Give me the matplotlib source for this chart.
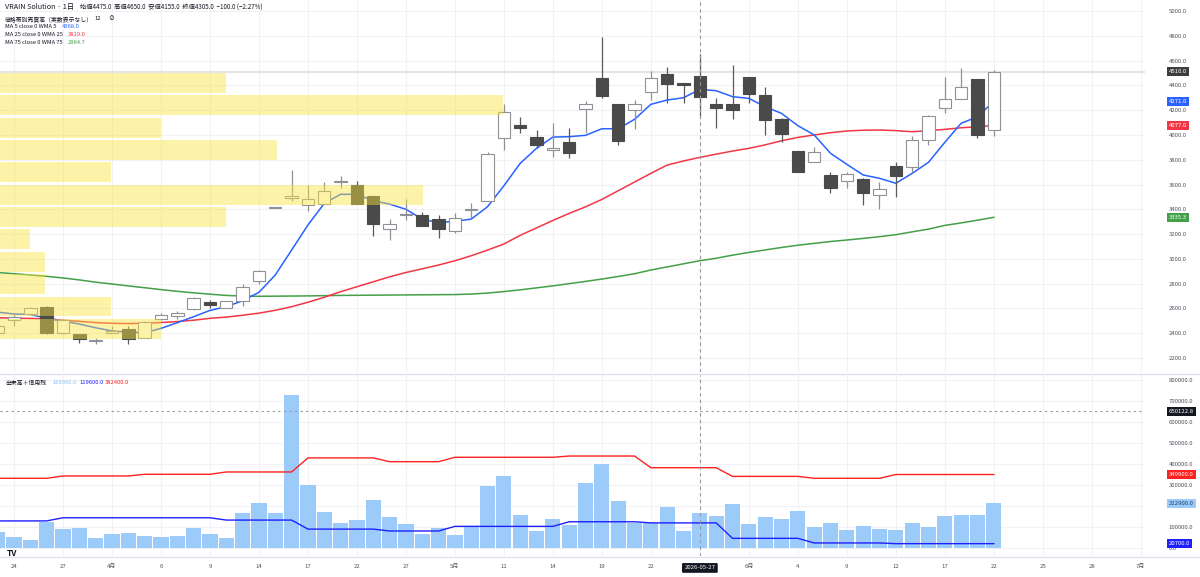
import matplotlib
matplotlib.use("Agg")
import matplotlib.pyplot as plt
from matplotlib.lines import Line2D
import numpy as np

plt.rcParams['font.family'] = ['Noto Sans CJK JP', 'DejaVu Sans']

# ---- data (daily bars, 2026-03-23 .. 2026-06-22) ----
dates = ["2026-03-23", "2026-03-24", "2026-03-25", "2026-03-26", "2026-03-27",
         "2026-03-30", "2026-03-31", "2026-04-01", "2026-04-02", "2026-04-03",
         "2026-04-06", "2026-04-07", "2026-04-08", "2026-04-09", "2026-04-10",
         "2026-04-13", "2026-04-14", "2026-04-15", "2026-04-16", "2026-04-17",
         "2026-04-20", "2026-04-21", "2026-04-22", "2026-04-23", "2026-04-24",
         "2026-04-27", "2026-04-28", "2026-04-30", "2026-05-01", "2026-05-07",
         "2026-05-08", "2026-05-11", "2026-05-12", "2026-05-13", "2026-05-14",
         "2026-05-15", "2026-05-18", "2026-05-19", "2026-05-20", "2026-05-21",
         "2026-05-22", "2026-05-25", "2026-05-26", "2026-05-27", "2026-05-28",
         "2026-05-29", "2026-06-01", "2026-06-02", "2026-06-03", "2026-06-04",
         "2026-06-05", "2026-06-08", "2026-06-09", "2026-06-10", "2026-06-11",
         "2026-06-12", "2026-06-15", "2026-06-16", "2026-06-17", "2026-06-18",
         "2026-06-19", "2026-06-22"]

opens = [2400, 2510, 2555, 2615, 2400, 2395, 2335, 2405, 2430, 2365,
         2518, 2535, 2592, 2652, 2602, 2658, 2825, 3408, 3488, 3432,
         3442, 3622, 3593, 3507, 3245, 3355, 3350, 3318, 3222, 3398,
         3470, 3973, 4078, 3986, 3880, 3943, 4208, 4457, 4247, 4198,
         4346, 4489, 4416, 4475, 4250, 4250, 4465, 4322, 4128, 3870,
         3779, 3677, 3631, 3644, 3515, 3749, 3738, 3956, 4220, 4290,
         4449, 4040]
highs = [2470, 2555, 2615, 2620, 2510, 2395, 2360, 2460, 2460, 2495,
         2560, 2580, 2690, 2672, 2660, 2800, 2908, 3408, 3715, 3595,
         3622, 3670, 3630, 3510, 3318, 3485, 3380, 3350, 3372, 3448,
         3865, 4250, 4147, 4040, 4094, 4058, 4276, 4788, 4250, 4282,
         4516, 4546, 4418, 4650, 4300, 4565, 4468, 4384, 4135, 3872,
         3905, 3698, 3698, 3650, 3622, 3784, 3991, 4161, 4465, 4542,
         4452, 4524]
lows = [2380, 2460, 2550, 2395, 2395, 2320, 2310, 2400, 2315, 2360,
        2510, 2515, 2590, 2605, 2600, 2620, 2795, 3408, 3470, 3390,
        3440, 3572, 3440, 3185, 3150, 3312, 3262, 3165, 3212, 3332,
        3465, 3878, 4013, 3892, 3825, 3810, 4018, 4296, 3918, 4045,
        4282, 4255, 4255, 4155, 4053, 4126, 4255, 4000, 3940, 3700,
        3778, 3529, 3569, 3434, 3402, 3497, 3703, 3919, 4174, 4290,
        3973, 3994]
closes = [2455, 2530, 2600, 2400, 2505, 2350, 2340, 2420, 2350, 2488,
          2548, 2560, 2686, 2628, 2657, 2772, 2905, 3408, 3505, 3485,
          3550, 3630, 3445, 3283, 3278, 3360, 3265, 3242, 3327, 3405,
          3845, 4188, 4057, 3920, 3893, 3857, 4246, 4315, 3955, 4252,
          4462, 4408, 4405, 4305, 4215, 4200, 4328, 4120, 4007, 3703,
          3860, 3574, 3685, 3531, 3564, 3666, 3959, 4150, 4287, 4389,
          4002, 4510]

ma5 = [2570, 2555, 2552, 2520, 2498, 2474, 2444, 2418, 2409, 2404,
       2439, 2485, 2533, 2584, 2614, 2662, 2730, 2870, 3071, 3273,
       3448, 3521, 3521, 3469, 3442, 3400, 3321, 3292, 3303, 3321,
       3421, 3590, 3771, 3892, 3983, 3986, 3997, 4050, 4050, 4126,
       4247, 4282, 4300, 4368, 4357, 4309, 4295, 4228, 4174, 4075,
       4000, 3852, 3763, 3677, 3650, 3610, 3690, 3779, 3940, 4094,
       4147, 4271]
ma25 = [2525, 2522, 2519, 2516, 2505, 2496, 2486, 2480, 2478, 2480,
        2486, 2494, 2505, 2520, 2530, 2545, 2562, 2585, 2614, 2650,
        2690, 2735, 2775, 2815, 2855, 2890, 2920, 2950, 2985, 3025,
        3071, 3120, 3190, 3250, 3310, 3367, 3420, 3480, 3550, 3620,
        3690, 3757, 3790, 3819, 3845, 3870, 3892, 3920, 3953, 3980,
        4000, 4018, 4032, 4038, 4040, 4035, 4026, 4035, 4045, 4058,
        4066, 4077]
ma75 = [2890, 2880, 2870, 2859, 2846, 2830, 2812, 2797, 2782, 2767,
        2752, 2738, 2726, 2715, 2705, 2700, 2698, 2699, 2700, 2701,
        2703, 2705, 2706, 2707, 2708, 2709, 2710, 2711, 2712, 2716,
        2724, 2736, 2750, 2766, 2782, 2800, 2818, 2837, 2858, 2880,
        2910, 2935, 2960, 2985, 3005, 3030, 3052, 3072, 3092, 3110,
        3125, 3140, 3152, 3165, 3179, 3195, 3218, 3240, 3270, 3290,
        3312, 3335.3]

volume = [78000, 52000, 37000, 125000, 89000, 97000, 48000, 68000, 71000, 59000,
          51000, 56000, 95000, 67000, 48000, 168000, 216000, 168000, 729000, 300000,
          170000, 119000, 135000, 230000, 148000, 113000, 68000, 97000, 62000, 102000,
          297000, 343000, 159000, 81000, 137000, 111000, 311000, 398000, 225000, 121000,
          117000, 194000, 83000, 168900, 154000, 208000, 114000, 149000, 137000, 176000,
          102000, 121000, 87000, 105000, 90000, 87000, 121000, 102000, 154000, 159000,
          157000, 212900]
# 信用残 (margin balances), weekly steps
margin_buy = [332000, 332000, 332000, 332000, 343000, 343000, 343000, 343000, 343000, 351000,
              351000, 351000, 351000, 351000, 362000, 362000, 362000, 362000, 362000, 429000,
              429000, 429000, 429000, 429000, 411000, 411000, 411000, 411000, 432000, 432000,
              432000, 432000, 432000, 432000, 432000, 438000, 438000, 438000, 438000, 438000,
              382400, 382400, 382400, 382400, 382400, 341000, 341000, 341000, 341000, 341000,
              332000, 332000, 332000, 332000, 332000, 349900, 349900, 349900, 349900, 349900,
              349900, 349900]
margin_sell = [129000, 129000, 129000, 129000, 144000, 144000, 144000, 144000, 144000, 144000,
               144000, 144000, 144000, 144000, 133000, 133000, 133000, 133000, 133000, 90000,
               90000, 90000, 90000, 90000, 81000, 81000, 81000, 81000, 103000, 103000,
               103000, 103000, 103000, 103000, 103000, 125000, 125000, 125000, 125000, 125000,
               119600, 119600, 119600, 119600, 119600, 46000, 46000, 46000, 46000, 46000,
               24000, 24000, 24000, 24000, 24000, 20700, 20700, 20700, 20700, 20700,
               20700, 20700]

# 価格帯別売買高: 12 rows from high to low (relative volume)
profile_high = 4510
profile_low = 2345
profile_vol = [45, 100, 32, 55, 22, 84, 45, 6, 9, 9, 22, 32]

tick_labels = ["24", "27", "4月", "6", "9", "14", "17", "22", "27", "5月", "11", "14",
               "19", "22", "", "6月", "4", "9", "12", "17", "22", "25", "28", "7月"]
cursor_date = "2026-05-27"
cursor_vol = 650122.8

# ---- layout helpers (pixel coords of a 1200x577 image) ----
W, H = 1200, 577
def fx(px):
    return px / W
def fy(py):
    return 1 - py / H

fig = plt.figure(figsize=(12, 5.77), dpi=100)
fig.patch.set_facecolor("white")

plot_w = 1145
ax = fig.add_axes([0, fy(372), fx(plot_w), 372 / H])
axv = fig.add_axes([0, fy(556), fx(plot_w), 181 / H])

x = np.arange(len(dates))
px_per_bar = 16.33
x_left = 1 - 14 / px_per_bar
x_right = 1 + (plot_w - 14) / px_per_bar
ticks = np.arange(1, 1 + 3 * len(tick_labels), 3)

grid_c = "#f0f2f5"
axis_txt = "#50535e"
for a in (ax, axv):
    a.set_xlim(x_left, x_right)
    for s in a.spines.values():
        s.set_visible(False)
    a.set_xticks(ticks)
    a.grid(True, color=grid_c, lw=0.8, zorder=0)
    a.set_axisbelow(True)
    a.yaxis.tick_right()
    a.tick_params(axis="y", length=0, pad=17, labelsize=4.3, labelcolor=axis_txt)
    a.tick_params(axis="x", length=0)

# ---- price pane ----
ax.set_ylim(2087, 5089)
ax.set_yticks(np.arange(2200, 5001, 200))
ax.set_yticklabels([f"{v:.1f}" for v in np.arange(2200, 5001, 200)])
ax.tick_params(axis="x", labelbottom=False)

ax.axhline(closes[-1], color="#e4e4e4", lw=1.6, zorder=1)

ax.plot(x, ma75, color="#43a047", lw=1.1, zorder=2)
ax.plot(x, ma25, color="#f23645", lw=1.1, zorder=2)
ax.plot(x, ma5, color="#2962ff", lw=1.1, zorder=2)

o = np.array(opens); c = np.array(closes)
up = c >= o
wick_c = np.where(up, "#8f9196", "#5a5a5a")
ax.vlines(x, lows, highs, colors=wick_c, lw=0.9, zorder=3)
body_h = np.maximum(np.abs(c - o), 7)
ax.bar(x, body_h, bottom=np.minimum(o, c), width=0.76,
       color=np.where(up, "white", "#4a4a4a"),
       edgecolor=np.where(up, "#8f9196", "#4a4a4a"), lw=0.8, zorder=4)

# volume profile rows drawn on top, semi transparent
rows = len(profile_vol)
step = (profile_high - profile_low) / rows
centers = profile_high - step * (np.arange(rows) + 0.5)
max_w = 503 / px_per_bar
ax.barh(centers, np.array(profile_vol) / max(profile_vol) * max_w, left=x_left,
        height=step * 0.89, color="#fae43f", alpha=0.45, lw=0, zorder=5)

ci = dates.index(cursor_date)
ax.axvline(ci, color="#9598a1", lw=0.8, ls=(0, (3, 3)), zorder=6)

def tag(a, y, txt, bg, fg="white"):
    a.text(1 + 24 / plot_w, y, txt, transform=a.get_yaxis_transform(), ha="left", va="center",
           fontsize=4.3, color=fg, clip_on=False, zorder=10,
           bbox=dict(boxstyle="square,pad=0.35", fc=bg, ec="none"))

tag(ax, closes[-1], f"{closes[-1]:.1f}", "#3d3d3d")
tag(ax, ma5[-1], f"{ma5[-1]:.1f}", "#2962ff")
tag(ax, ma25[-1], f"{ma25[-1]:.1f}", "#f23645")
tag(ax, ma75[-1], f"{ma75[-1]:.1f}", "#43a047")

# ---- volume pane ----
axv.set_ylim(-38095, 823810)
vt = np.arange(0, 800001, 100000)
axv.set_yticks(vt)
axv.set_yticklabels([f"{v:.1f}" for v in vt])
axv.bar(x, volume, width=0.93, color="#9ccbfa", lw=0, zorder=2)
axv.plot(x, margin_buy, color="#ff2020", lw=1.0, zorder=3)
axv.plot(x, margin_sell, color="#2020ff", lw=1.0, zorder=3)
axv.axvline(ci, color="#9598a1", lw=0.8, ls=(0, (3, 3)), zorder=6)
axv.axhline(cursor_vol, color="#9598a1", lw=0.8, ls=(0, (2, 3)), zorder=6)
axv.set_xticklabels(tick_labels)
axv.tick_params(axis="x", pad=6, labelsize=4.3, labelcolor=axis_txt)

tag(axv, cursor_vol, f"{cursor_vol:.1f}", "#131722")
tag(axv, margin_buy[-1], f"{margin_buy[-1]:.1f}", "#ff2020")
tag(axv, volume[-1], f"{volume[-1]:.1f}", "#9ccbfa", fg="#1e3a6e")
tag(axv, margin_sell[-1], f"{margin_sell[-1]:.1f}", "#2020ff")

axv.text(ci, -0.066, cursor_date, transform=axv.get_xaxis_transform(), ha="center", va="center",
         fontsize=4.3, color="white", clip_on=False, zorder=10,
         bbox=dict(boxstyle="round,pad=0.4,rounding_size=0.2", fc="#131722", ec="none"))

# pane separators
for yy in (373.5, 556.5):
    fig.add_artist(Line2D([0, 1], [fy(yy), fy(yy)], color="#e0e3eb", lw=1.0))

# ---- header / legends ----
dark = "#131722"
fig.text(fx(5), fy(7.3), "VRAIN Solution · 1日", fontsize=5.2, color=dark, va="center")
fig.text(fx(80), fy(7.3), "始値4475.0  高値4650.0  安値4155.0  終値4305.0  −100.0 (−2.27%)",
         fontsize=4.5, color=dark, va="center")
fig.text(fx(5), fy(19), "価格帯別売買高（実数表示なし）", fontsize=4.2, color=dark, va="center")
fig.text(fx(94), fy(19), "12", fontsize=4.2, color=dark, va="center")
fig.text(fx(108), fy(19), "⊘", fontsize=4.2, color=dark, va="center")
ma_rows = [("MA 5 close 0 WMA 5", ma5[ci], "#2962ff", 26, 62),
           ("MA 25 close 0 WMA 25", ma25[ci], "#f23645", 34.3, 68),
           ("MA 75 close 0 WMA 75", 2984.7, "#43a047", 42.3, 68)]
for name, val, col, yy, xv in ma_rows:
    fig.text(fx(5), fy(yy), name, fontsize=4.2, color=dark, va="center")
    fig.text(fx(xv), fy(yy), f"{val:.1f}", fontsize=4.2, color=col, va="center")

fig.text(fx(5), fy(383), "出来高＋信用残", fontsize=4.2, color=dark, va="center")
fig.text(fx(52), fy(383), f"{volume[ci]:.1f}", fontsize=4.2, color="#8cc0f5", va="center")
fig.text(fx(79), fy(383), f"{margin_sell[ci]:.1f}", fontsize=4.2, color="#2020ff", va="center")
fig.text(fx(105), fy(383), f"{margin_buy[ci]:.1f}", fontsize=4.2, color="#ff2020", va="center")

fig.text(fx(12), fy(553), "TV", fontsize=6, weight="bold", color=dark, ha="center", va="center")

fig.savefig("out.png", dpi=100, facecolor="white")
